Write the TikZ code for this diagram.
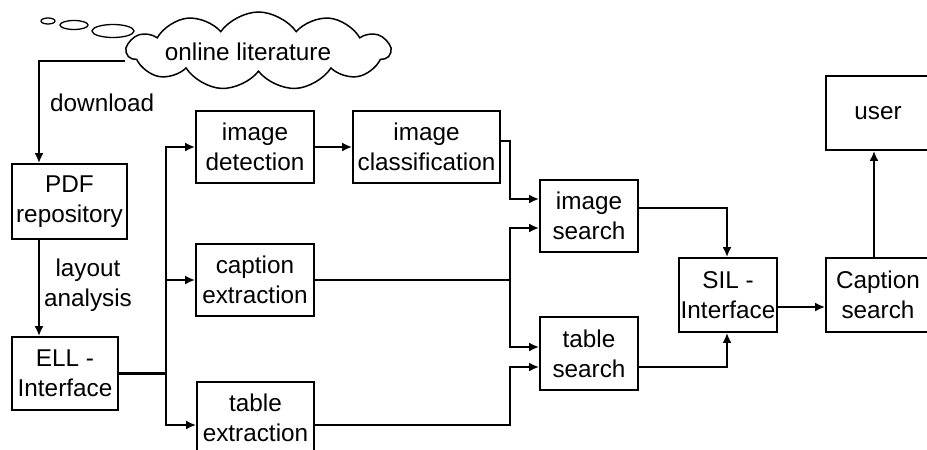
\documentclass[tikz,border=0pt]{standalone}
\usepackage{fontspec}
\setmainfont{Liberation Sans}
\usetikzlibrary{arrows.meta,shapes.symbols}
\begin{document}
\begin{tikzpicture}[x=1pt,y=-1pt,
  every node/.style={font=\fontsize{24.3}{30}\selectfont},
  box/.style={draw, line width=1.8pt, align=center, inner sep=0pt},
  arr/.style={line width=2.4pt, -{Latex[length=10pt,width=9pt]}},
  ln/.style={line width=2.4pt},
  lbl/.style={align=center, inner sep=0pt}]
\useasboundingbox (0,0) rectangle (927,450);
% boxes
\node[box, minimum width=115pt, minimum height=75pt] (pdf) at (69.5,201.5) {PDF\\repository};
\node[box, minimum width=106pt, minimum height=73pt] (ell) at (65,373.5) {ELL -\\Interface};
\node[box, minimum width=118pt, minimum height=72pt] (det) at (255,147) {image\\detection};
\node[box, minimum width=147pt, minimum height=72pt] (cls) at (426.5,147) {image\\classification};
\node[box, minimum width=118pt, minimum height=72pt] (cap) at (255,280) {caption\\extraction};
\node[box, minimum width=117pt, minimum height=86pt] (tex) at (255.5,425) {};
\node[lbl] at (255.5,418) {table\\extraction};
\node[box, minimum width=98pt, minimum height=72pt] (ims) at (589,216) {image\\search};
\node[box, minimum width=98pt, minimum height=73pt] (tbs) at (589,353.5) {table\\search};
\node[box, minimum width=98pt, minimum height=74pt] (sil) at (728,295) {SIL -\\Interface};
\node[box, minimum width=104pt, minimum height=74pt] (cs) at (878,295) {Caption\\search};
\node[box, minimum width=104pt, minimum height=74pt] (user) at (878,113) {user};
% cloud
\node[cloud, draw, line width=1.5pt, cloud puffs=11, cloud puff arc=110, cloud ignores aspect,
      minimum width=263pt, minimum height=78pt, inner sep=0pt] (cloud) at (258.5,51) {};
\node[lbl] at (248,52) {online literature};
\draw[line width=1.3pt] (48,21) ellipse (7pt and 3pt);
\draw[line width=1.3pt] (74,25) ellipse (14pt and 4.5pt);
\draw[line width=1.3pt] (113,31) ellipse (21pt and 6.5pt);
% labels
\node[lbl, anchor=west] at (50,103) {download};
\node[lbl] at (88,285) {layout\\analysis};
% helper coordinates
\coordinate (lx) at (39,0);
\coordinate (bx) at (166,0);
\coordinate (mx) at (510,0);
\coordinate (sx) at (727,0);
\coordinate (cldout) at ([yshift=-10pt]cloud.west);
\coordinate (texin) at ([yshift=0pt]tex.west);
\coordinate (clsout) at ([yshift=6pt]cls.east);
\coordinate (imsin1) at ([yshift=17pt]ims.west);
\coordinate (imsin2) at ([yshift=-12pt]ims.west);
\coordinate (tbsin1) at ([yshift=6.5pt]tbs.west);
\coordinate (tbsin2) at ([yshift=-13.5pt]tbs.west);
\coordinate (imsout) at ([yshift=8pt]ims.east);
\coordinate (tbsout) at ([yshift=-13.5pt]tbs.east);
\coordinate (silout) at ([yshift=-12pt]sil.east);
\coordinate (csin) at ([yshift=-12pt]cs.west);
\coordinate (csout) at ([xshift=-4pt]cs.north);
% connectors
\draw[arr] (cldout) -| (lx |- pdf.north);
\draw[arr] (lx |- pdf.south) -- (lx |- ell.north);
\draw[ln] (ell.east) -- (bx |- ell.east);
\draw[arr] (bx |- ell.east) |- (det.west);
\draw[arr] (bx |- ell.east) |- (cap.west);
\draw[arr] (bx |- ell.east) |- (texin);
\draw[arr] (det.east) -- (cls.west);
\draw[arr] (clsout) -| (mx |- imsin1) -- (imsin1);
\draw[ln] (cap.east) -- (mx |- cap.east);
\draw[arr] (mx |- cap.east) |- (imsin2);
\draw[arr] (mx |- cap.east) |- (tbsin1);
\draw[arr] (texin -| tex.east) -| (mx |- tbsin2) -- (tbsin2);
\draw[arr] (imsout) -| (sx |- sil.north);
\draw[arr] (tbsout) -| (sx |- sil.south);
\draw[arr] (silout) -- (csin);
\draw[arr] (csout) -- (csout |- user.south);
\end{tikzpicture}
\end{document}
